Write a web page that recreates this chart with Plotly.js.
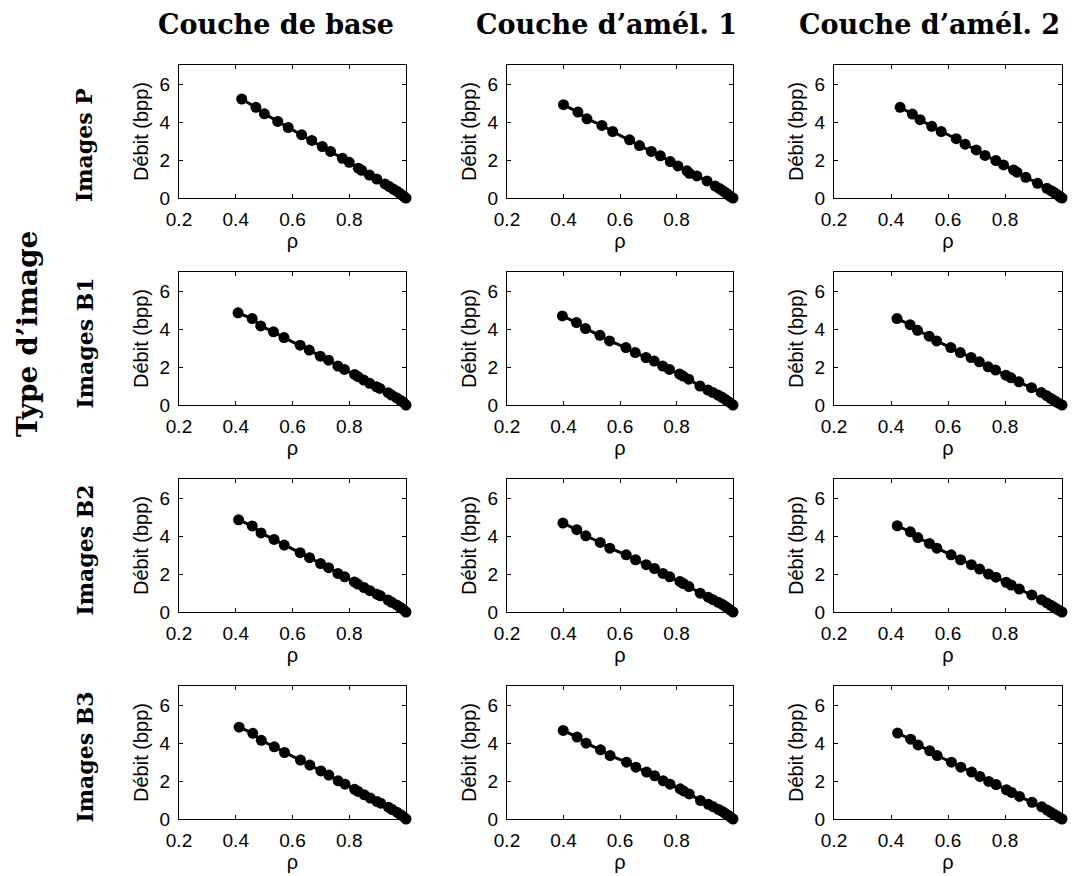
<!DOCTYPE html>
<html>
<head>
<meta charset="utf-8">
<script src="https://cdn.plot.ly/plotly-3.0.1.min.js"></script>
<style>html,body{margin:0;padding:0;background:#fff;}#chart{width:1075px;height:876px;}</style>
</head>
<body>
<div id="chart"></div>
<script>
// Column and row labels
const columnTitles = ["Couche de base", "Couche d\u2019amél. 1", "Couche d\u2019amél. 2"];
const rowTitles = ["Images P", "Images B1", "Images B2", "Images B3"];
const groupTitle = "Type d\u2019image";
const xTickVals = [0.2, 0.4, 0.6, 0.8];
const yTickVals = [0, 2, 4, 6];

// Images P
const rhoP_base  = [0.421,0.471,0.501,0.548,0.585,0.632,0.668,0.705,0.734,0.776,0.800,0.832,0.844,0.871,0.897,0.926,0.941,0.955,0.966,0.975,0.983,0.990,0.995,1.0];
const debitP_base= [5.21,4.77,4.43,4.03,3.71,3.33,3.03,2.71,2.45,2.09,1.88,1.57,1.46,1.21,1.00,0.74,0.60,0.47,0.37,0.28,0.19,0.11,0.05,0.0];
const rhoP_am1   = [0.400,0.451,0.483,0.536,0.574,0.634,0.669,0.711,0.743,0.778,0.805,0.837,0.846,0.872,0.908,0.937,0.952,0.963,0.972,0.980,0.987,0.993,1.0];
const debitP_am1 = [4.91,4.52,4.17,3.82,3.50,3.06,2.76,2.45,2.22,1.92,1.69,1.43,1.30,1.16,0.90,0.63,0.50,0.39,0.30,0.21,0.13,0.06,0.0];
const rhoP_am2   = [0.432,0.475,0.502,0.543,0.576,0.629,0.660,0.699,0.730,0.768,0.795,0.830,0.842,0.873,0.914,0.947,0.960,0.970,0.978,0.985,0.991,0.996,1.0];
const debitP_am2 = [4.77,4.42,4.12,3.77,3.50,3.12,2.83,2.53,2.24,1.97,1.74,1.48,1.36,1.09,0.77,0.51,0.40,0.31,0.23,0.16,0.09,0.04,0.0];

// Images B1
const rhoB1_base  = [0.408,0.458,0.488,0.533,0.570,0.627,0.659,0.698,0.727,0.760,0.783,0.819,0.831,0.851,0.872,0.896,0.908,0.937,0.949,0.967,0.979,0.991,1.0];
const debitB1_base= [4.85,4.55,4.16,3.85,3.55,3.15,2.89,2.57,2.36,2.05,1.87,1.61,1.49,1.31,1.14,0.96,0.87,0.65,0.52,0.38,0.26,0.14,0.0];
const rhoB1_am1   = [0.396,0.446,0.478,0.529,0.563,0.621,0.654,0.692,0.721,0.751,0.775,0.811,0.823,0.843,0.883,0.911,0.928,0.947,0.960,0.970,0.980,0.990,1.0];
const debitB1_am1 = [4.69,4.34,4.02,3.67,3.37,3.02,2.76,2.50,2.31,2.05,1.87,1.63,1.52,1.36,1.00,0.79,0.66,0.52,0.42,0.32,0.22,0.12,0.0];
const rhoB1_am2   = [0.421,0.467,0.493,0.534,0.560,0.610,0.643,0.681,0.710,0.741,0.767,0.803,0.821,0.849,0.893,0.927,0.946,0.960,0.970,0.980,0.990,1.0];
const debitB1_am2 = [4.55,4.23,3.93,3.62,3.37,3.02,2.76,2.50,2.27,2.01,1.84,1.57,1.43,1.22,0.91,0.66,0.49,0.35,0.26,0.17,0.08,0.0];

// Images B2
const rhoB2_base  = [0.410,0.458,0.489,0.535,0.571,0.627,0.660,0.699,0.727,0.760,0.784,0.818,0.830,0.852,0.873,0.897,0.910,0.937,0.950,0.967,0.979,0.991,1.0];
const debitB2_base= [4.85,4.53,4.16,3.82,3.52,3.12,2.86,2.55,2.33,2.03,1.85,1.58,1.47,1.29,1.12,0.94,0.85,0.63,0.51,0.37,0.25,0.13,0.0];
const rhoB2_am1   = [0.398,0.447,0.479,0.530,0.564,0.622,0.655,0.693,0.722,0.752,0.776,0.812,0.824,0.844,0.884,0.912,0.929,0.948,0.961,0.971,0.981,0.990,1.0];
const debitB2_am1 = [4.68,4.33,4.01,3.66,3.36,3.01,2.75,2.49,2.29,2.03,1.85,1.61,1.50,1.34,0.99,0.78,0.65,0.51,0.41,0.31,0.21,0.11,0.0];
const rhoB2_am2   = [0.422,0.468,0.494,0.535,0.561,0.611,0.644,0.682,0.711,0.742,0.768,0.804,0.822,0.850,0.894,0.928,0.947,0.961,0.971,0.981,0.990,1.0];
const debitB2_am2 = [4.54,4.22,3.92,3.61,3.36,3.01,2.75,2.49,2.26,2.00,1.83,1.56,1.42,1.21,0.90,0.65,0.48,0.35,0.26,0.17,0.08,0.0];

// Images B3
const rhoB3_base  = [0.412,0.460,0.490,0.536,0.572,0.628,0.661,0.700,0.728,0.761,0.785,0.819,0.831,0.853,0.874,0.898,0.911,0.938,0.951,0.968,0.980,0.991,1.0];
const debitB3_base= [4.83,4.51,4.14,3.80,3.50,3.10,2.84,2.53,2.31,2.01,1.83,1.56,1.45,1.27,1.10,0.92,0.83,0.62,0.50,0.36,0.24,0.12,0.0];
const rhoB3_am1   = [0.399,0.448,0.480,0.531,0.565,0.623,0.656,0.694,0.723,0.753,0.777,0.813,0.825,0.845,0.885,0.913,0.930,0.949,0.962,0.972,0.982,0.991,1.0];
const debitB3_am1 = [4.66,4.31,3.99,3.64,3.34,2.99,2.73,2.47,2.27,2.01,1.83,1.59,1.48,1.32,0.97,0.77,0.64,0.50,0.40,0.30,0.20,0.10,0.0];
const rhoB3_am2   = [0.423,0.469,0.495,0.536,0.562,0.612,0.645,0.683,0.712,0.743,0.769,0.805,0.823,0.851,0.895,0.929,0.948,0.962,0.972,0.982,0.991,1.0];
const debitB3_am2 = [4.52,4.20,3.90,3.59,3.34,2.99,2.73,2.47,2.24,1.98,1.81,1.54,1.40,1.19,0.88,0.64,0.47,0.34,0.25,0.16,0.07,0.0];

const panels = [
  [[rhoP_base, debitP_base],[rhoP_am1, debitP_am1],[rhoP_am2, debitP_am2]],
  [[rhoB1_base, debitB1_base],[rhoB1_am1, debitB1_am1],[rhoB1_am2, debitB1_am2]],
  [[rhoB2_base, debitB2_base],[rhoB2_am1, debitB2_am1],[rhoB2_am2, debitB2_am2]],
  [[rhoB3_base, debitB3_base],[rhoB3_am1, debitB3_am1],[rhoB3_am2, debitB3_am2]]
];

const W = 1075, H = 876;
const colPx = [[179,406],[507,733],[834,1062]];
const rowPx = [[65,198],[272,405],[479,612],[686,819]];
const sans = 'Liberation Sans, Arial, sans-serif';

const data = [];
const layout = {
  width: W, height: H,
  margin: {l:0, r:0, t:0, b:0},
  paper_bgcolor: '#fff', plot_bgcolor: '#fff',
  showlegend: false,
  font: {family: sans, color: '#000', size: 19},
  annotations: []
};

let idx = 0;
for (let r = 0; r < 4; r++) {
  for (let c = 0; c < 3; c++) {
    idx++;
    const sfx = idx === 1 ? '' : String(idx);
    const [xs, ys] = panels[r][c];
    data.push({
      type: 'scatter', mode: 'lines+markers',
      x: xs, y: ys,
      xaxis: 'x' + sfx, yaxis: 'y' + sfx,
      line: {color: '#000', width: 3},
      marker: {color: '#000', size: 11},
      cliponaxis: false,
      hoverinfo: 'skip'
    });
    const axCommon = {
      showline: true, mirror: 'ticks', linecolor: '#000', linewidth: 1,
      ticks: 'inside', ticklen: 4, tickcolor: '#000', tickwidth: 1,
      showgrid: false, zeroline: false,
      ticklabelstandoff: 4,
      tickfont: {family: sans, size: 19, color: '#000'}
    };
    layout['xaxis' + sfx] = Object.assign({}, axCommon, {
      domain: [colPx[c][0]/W, colPx[c][1]/W],
      range: [0.2, 1.0], tickvals: xTickVals, ticktext: ['0.2','0.4','0.6','0.8'],
      anchor: 'y' + sfx,
      title: {text: 'ρ', font: {family: sans, size: 20}, standoff: 3}
    });
    layout['yaxis' + sfx] = Object.assign({}, axCommon, {
      domain: [1 - rowPx[r][1]/H, 1 - rowPx[r][0]/H],
      range: [0, 7], tickvals: yTickVals,
      anchor: 'x' + sfx,
      title: {text: 'Débit (bpp)', font: {family: sans, size: 20}, standoff: 5}
    });
  }
}

const serif = 'DejaVu Serif, serif';
const colCenters = [276, 606, 929];
columnTitles.forEach((t, i) => {
  layout.annotations.push({
    text: '<b>' + t + '</b>', xref: 'paper', yref: 'paper',
    x: colCenters[i]/W, y: 1 - 24/H, xanchor: 'center', yanchor: 'middle',
    showarrow: false, font: {family: serif, size: 27, color: '#000'}
  });
});
const rowBottoms = [204, 411, 618, 825];
rowTitles.forEach((t, i) => {
  layout.annotations.push({
    text: '<b>' + t + '</b>', xref: 'paper', yref: 'paper',
    x: 84/W, y: 1 - rowBottoms[i]/H, xanchor: 'center', yanchor: 'bottom',
    textangle: -90, showarrow: false, font: {family: serif, size: 22, color: '#000'}
  });
});
layout.annotations.push({
  text: '<b>' + groupTitle + '</b>', xref: 'paper', yref: 'paper',
  x: 27/W, y: 1 - 334/H, xanchor: 'center', yanchor: 'middle',
  textangle: -90, showarrow: false, font: {family: serif, size: 28, color: '#000'}
});

Plotly.newPlot('chart', data, layout, {staticPlot: true, displayModeBar: false});
</script>
</body>
</html>
